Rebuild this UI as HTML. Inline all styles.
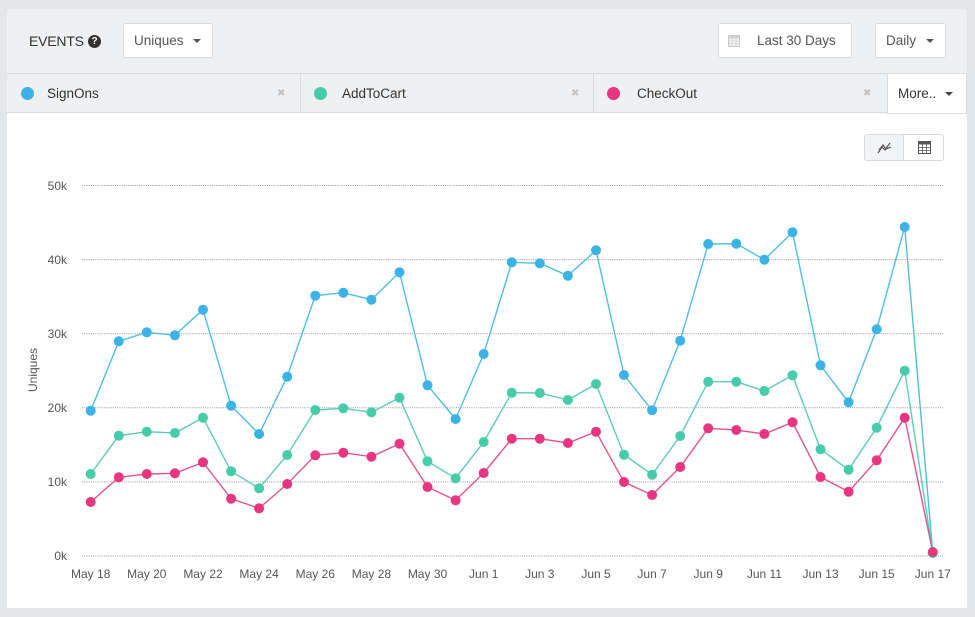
<!DOCTYPE html>
<html><head><meta charset="utf-8"><style>
*{margin:0;padding:0;box-sizing:border-box}
html,body{width:975px;height:617px;overflow:hidden;background:#e4e7ea;font-family:"Liberation Sans",sans-serif}
.abs{position:absolute}
.card{left:7px;top:9px;width:960px;height:599px;background:#fff;border-radius:4px 4px 0 0;overflow:hidden}
.hdr{left:7px;top:9px;width:960px;height:65px;background:#eef0f2;border-radius:4px 4px 0 0}
.tabs{left:7px;top:73px;width:960px;height:40px;background:#eef0f2;border-top:1px solid #d9dcdf;border-bottom:1px solid #d9dcdf}
.btn{background:#fff;border:1px solid #d8dbde;border-radius:3px;height:35px;top:23px;font-size:13.5px;color:#555;line-height:33px}
.caret{position:absolute;width:0;height:0;border-left:4px solid transparent;border-right:4px solid transparent;border-top:4px solid #555}
.tab{top:74px;height:39px;font-size:13.5px;color:#333;line-height:39px}
.dot{position:absolute;width:13px;height:13px;border-radius:50%;top:13px}
.x{position:absolute;color:#c4c4c4;font-size:10px;top:0}
</style></head><body>
<div class="abs card"></div>
<div class="abs hdr"></div>
<div class="abs" style="left:29px;top:33px;font-size:14px;color:#333;letter-spacing:-0.2px">EVENTS</div>
<div class="abs" style="left:88px;top:35px;width:13px;height:13px;border-radius:50%;background:#333;color:#fff;font-size:10px;font-weight:bold;text-align:center;line-height:13px">?</div>
<div class="abs btn" style="left:123px;width:90px;padding-left:10px">Uniques<span class="caret" style="left:69px;top:15px"></span></div>
<div class="abs btn" style="left:718px;width:134px;padding-left:38px">Last 30 Days
 <svg class="abs" style="left:9px;top:10px" width="12" height="13" viewBox="0 0 12 13"><rect x="0.5" y="1.5" width="11" height="11" fill="#f2f2f2" stroke="#c8c8c8"/><rect x="0.5" y="1.5" width="11" height="3" fill="#d0d0d0"/><path d="M1 7h10M1 9.5h10M4 5v7M8 5v7" stroke="#d3d3d3" stroke-width="0.8"/></svg></div>
<div class="abs btn" style="left:875px;width:71px;padding-left:10px">Daily<span class="caret" style="left:50px;top:15px"></span></div>

<div class="abs tabs"></div>
<div class="abs" style="left:300px;top:74px;width:1px;height:39px;background:#d9dcdf"></div>
<div class="abs" style="left:593px;top:74px;width:1px;height:39px;background:#d9dcdf"></div>
<div class="abs tab" style="left:7px;width:293px"><span class="dot" style="left:14px;background:#3bb3e6"></span><span style="position:absolute;left:40px">SignOns</span><span class="x" style="left:270px">✖</span></div>
<div class="abs tab" style="left:300px;width:293px"><span class="dot" style="left:14px;background:#46cca8"></span><span style="position:absolute;left:42px">AddToCart</span><span class="x" style="left:271px">✖</span></div>
<div class="abs tab" style="left:593px;width:294px"><span class="dot" style="left:14px;background:#e8357f"></span><span style="position:absolute;left:44px">CheckOut</span><span class="x" style="left:270px">✖</span></div>
<div class="abs" style="left:887px;top:73px;width:80px;height:41px;background:#fff;border:1px solid #d9dcdf;font-size:13.5px;color:#333;line-height:39px;padding-left:10px">More..<span class="caret" style="left:57px;top:18px;border-top-color:#444"></span></div>

<div class="abs" style="left:864px;top:134px;width:80px;height:27px;border:1px solid #d8dbde;border-radius:3px;background:#fff;overflow:hidden">
 <div class="abs" style="left:0;top:0;width:39px;height:25px;background:#f2f3f4;border-right:1px solid #d8dbde"></div>
 <svg class="abs" style="left:12px;top:6px" width="16" height="14" viewBox="0 0 16 14"><path d="M1 12 L5 6 L8 9 L13 2" fill="none" stroke="#555" stroke-width="1.2"/><path d="M2 9 L6 4 L9 8 L14 6" fill="none" stroke="#555" stroke-width="1.2"/></svg>
 <svg class="abs" style="left:53px;top:6px" width="13" height="13" viewBox="0 0 13 13"><rect x="0.5" y="0.5" width="12" height="12" fill="#fff" stroke="#555"/><rect x="0.5" y="0.5" width="12" height="3" fill="#555"/><path d="M0.5 6.5h12M0.5 9.5h12M4.5 3v10M8.5 3v10" stroke="#555" stroke-width="0.8"/></svg>
</div>

<svg class="abs" style="left:0;top:0" width="975" height="617" viewBox="0 0 975 617" font-family="Liberation Sans, sans-serif">
<g stroke="#9a9a9a" stroke-width="1" stroke-dasharray="1,1.2">
<line x1="82" x2="943" y1="185.5" y2="185.5"/><line x1="82" x2="943" y1="259.6" y2="259.6"/><line x1="82" x2="943" y1="333.7" y2="333.7"/><line x1="82" x2="943" y1="407.8" y2="407.8"/><line x1="82" x2="943" y1="481.9" y2="481.9"/><line x1="82" x2="943" y1="556" y2="556"/>
</g>
<g font-size="12" fill="#555" text-anchor="end">
<text x="67" y="190">50k</text><text x="67" y="264">40k</text><text x="67" y="338">30k</text><text x="67" y="412">20k</text><text x="67" y="486">10k</text><text x="67" y="560">0k</text>
</g>
<text x="37" y="370" font-size="12" fill="#555" text-anchor="middle" transform="rotate(-90 37 370)">Uniques</text>
<g id="xl" font-size="12" fill="#555" text-anchor="middle"></g>
<g id="series"></g>
</svg>
<script>
(function(){
var X=function(i){return 90.7+i*28.07;};
var xl=document.getElementById('xl');
var labs=["May 18","May 20","May 22","May 24","May 26","May 28","May 30","Jun 1","Jun 3","Jun 5","Jun 7","Jun 9","Jun 11","Jun 13","Jun 15","Jun 17"];
var ns="http://www.w3.org/2000/svg";
labs.forEach(function(l,k){var t=document.createElementNS(ns,'text');t.setAttribute('x',X(2*k).toFixed(1));t.setAttribute('y','578');t.textContent=l;xl.appendChild(t);});
var S=[
 {c:"#3bb3e6",l:"#4fc0d8",d:[410.7,341.3,332.3,335.3,309.7,405.7,434,376.7,295.7,292.7,299.7,272.3,385.3,419,354,262.3,263.3,275.7,250.3,375,410.3,340.7,244,243.7,259.7,232.3,365.3,402.3,329.3,227,553]},
 {c:"#46cca8",l:"#5ccbb9",d:[474,435.7,431.7,433,417.7,471.3,488.3,455,410,408.3,412.3,397.7,461.3,478.3,442,392.7,393,400,384,454.7,474.7,436,381.7,381.7,391,375.3,449.3,469.7,427.7,370.7,553]},
 {c:"#e8357f",l:"#e0558e",d:[502,477.3,474,473.3,462.3,498.7,508.3,484,455.3,452.7,456.7,443.7,487,500.3,473,438.7,438.7,443,431.7,482,495,467,428.3,430,434,422.3,477,491.7,460.3,417.7,552]}
];
var g=document.getElementById('series');
S.forEach(function(s){
 var p=s.d.map(function(y,i){return X(i).toFixed(1)+","+y;}).join(" ");
 var pl=document.createElementNS(ns,'polyline');pl.setAttribute('points',p);pl.setAttribute('fill','none');pl.setAttribute('stroke',s.l);pl.setAttribute('stroke-width','1.4');g.appendChild(pl);
 s.d.forEach(function(y,i){var c=document.createElementNS(ns,'circle');c.setAttribute('cx',X(i).toFixed(1));c.setAttribute('cy',y);c.setAttribute('r','5');c.setAttribute('fill',s.c);g.appendChild(c);});
});
})();
</script>
</body></html>
